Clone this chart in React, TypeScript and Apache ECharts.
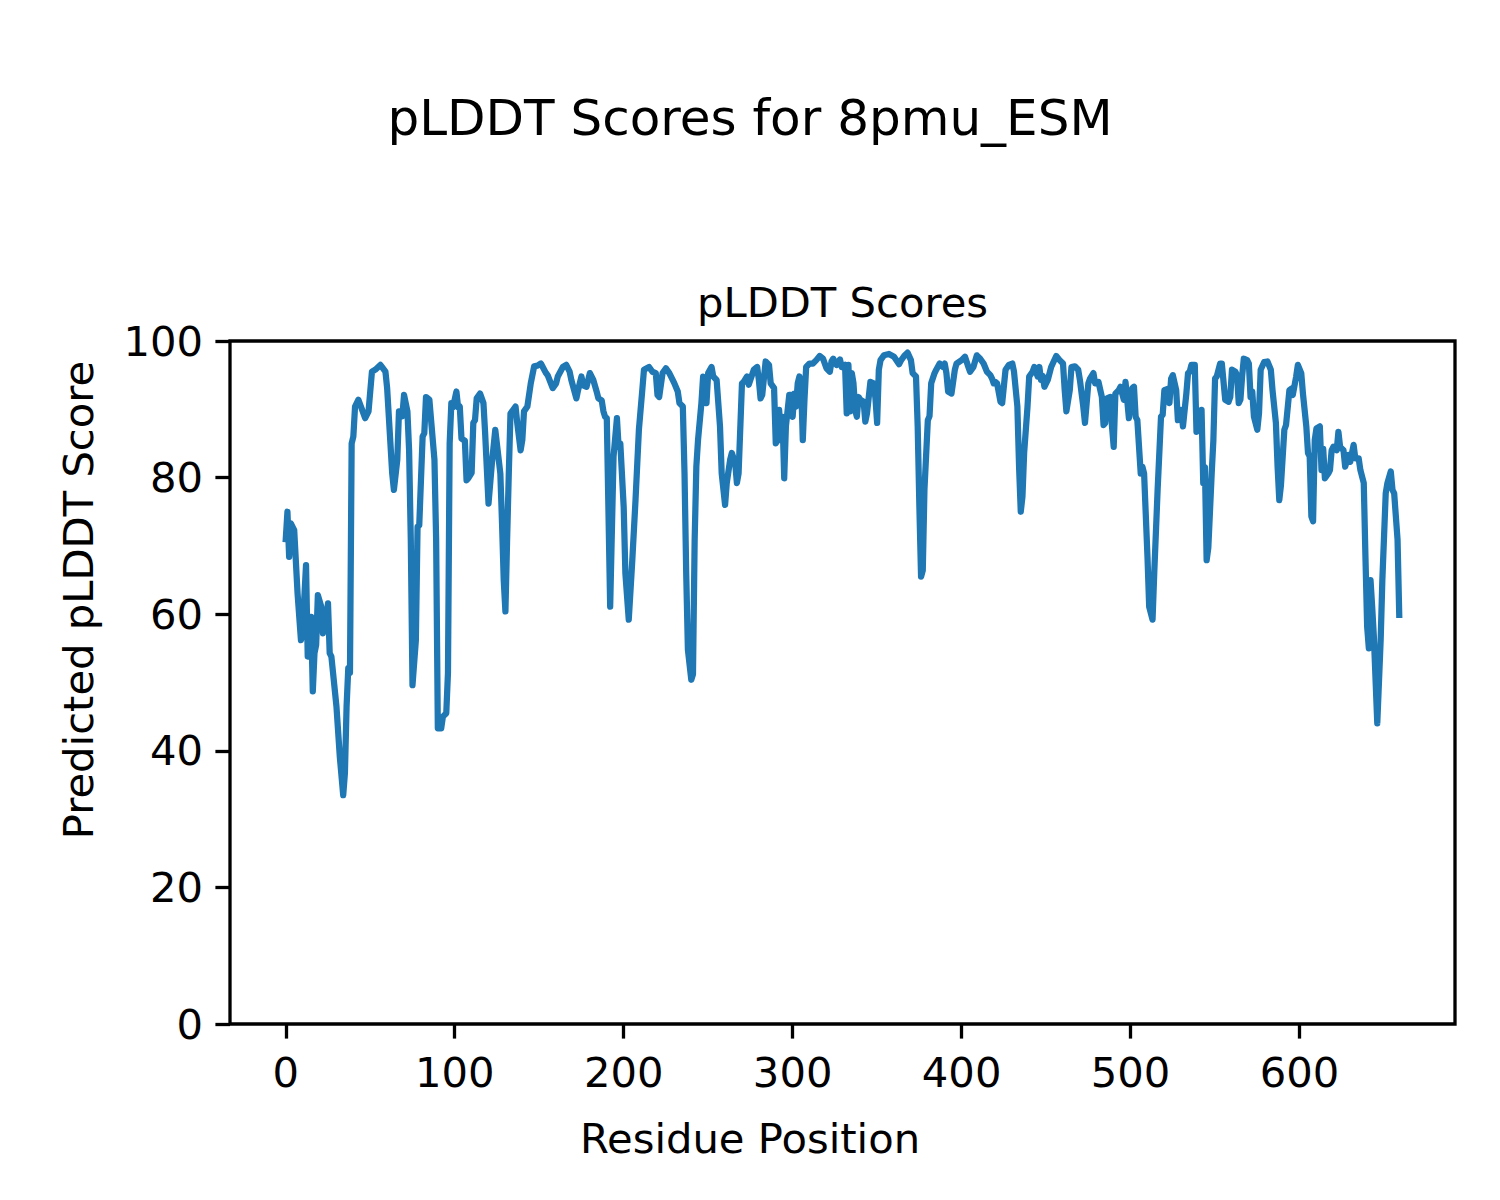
import React, { useEffect, useRef } from "react";
import * as echarts from "echarts";

const residues = [
  0, 1, 2, 3, 5, 7, 9, 10, 12, 13, 14, 15, 16, 17, 18, 19, 21, 22, 24, 25, 26, 27, 30, 32, 34, 35, 36, 37, 38, 39,
  40, 41, 43, 47, 49, 51, 53, 56, 59, 60, 63, 64, 66, 67, 69, 70, 72, 73, 74, 75, 77, 78, 79, 81, 82, 83, 85, 88, 89, 90,
  92, 93, 95, 96, 97, 98, 99, 101, 102, 103, 104, 106, 107, 108, 110, 111, 112, 113, 115, 117, 118, 120, 122, 124, 127, 128, 129, 130, 131, 132,
  133, 134, 136, 137, 139, 140, 141, 143, 145, 147, 149, 151, 154, 155, 158, 160, 161, 164, 166, 168, 169, 172, 173, 175, 176, 178, 180, 182, 184, 185,
  187, 188, 189, 190, 192, 194, 196, 197, 198, 200, 201, 203, 205, 207, 209, 211, 212, 215, 217, 219, 220, 221, 223, 225, 227, 229, 230, 232, 233, 235,
  236, 237, 238, 240, 241, 242, 243, 244, 246, 247, 248, 249, 250, 252, 253, 255, 257, 258, 260, 261, 263, 264, 266, 267, 268, 270, 271, 273, 274, 277,
  279, 280, 281, 282, 284, 286, 287, 289, 290, 291, 292, 293, 294, 295, 296, 298, 299, 300, 301, 302, 303, 304, 305, 306, 307, 308, 310, 312, 314, 316,
  318, 320, 322, 323, 324, 326, 328, 329, 331, 332, 333, 334, 335, 336, 337, 338, 339, 340, 342, 343, 344, 346, 348, 349, 350, 351, 352, 354, 357, 360,
  363, 364, 366, 368, 370, 371, 373, 374, 375, 376, 377, 378, 380, 381, 382, 384, 385, 387, 389, 390, 391, 392, 394, 396, 397, 400, 402, 404, 405, 407,
  409, 411, 413, 415, 417, 418, 419, 420, 421, 423, 424, 426, 428, 430, 431, 433, 434, 435, 436, 437, 439, 440, 442, 443, 445, 446, 447, 448, 449, 451,
  453, 456, 458, 460, 461, 462, 464, 465, 467, 469, 470, 472, 473, 475, 476, 478, 479, 481, 483, 484, 485, 486, 488, 489, 490, 491, 493, 494, 496, 497,
  499, 501, 502, 503, 504, 506, 507, 508, 510, 511, 513, 514, 516, 518, 519, 520, 522, 523, 524, 525, 527, 528, 530, 531, 533, 534, 535, 536, 538, 539,
  541, 542, 543, 544, 545, 546, 548, 549, 550, 551, 553, 554, 556, 558, 559, 560, 562, 563, 564, 565, 566, 567, 569, 570, 571, 572, 573, 575, 576, 577,
  579, 581, 583, 584, 586, 587, 588, 589, 591, 592, 594, 595, 596, 598, 599, 601, 602, 604, 605, 606, 607, 608, 609, 610, 612, 613, 614, 615, 617, 618,
  619, 620, 622, 623, 624, 626, 627, 629, 630, 632, 633, 635, 636, 638, 639, 640, 641, 642, 643, 644, 646, 648, 649, 651, 652, 654, 655, 656, 658, 659,
];

const scores = [
  71, 75, 68.4, 73.3, 72.3, 63, 56.2, 57.7, 67.2, 53.8, 56, 59.6, 48.7, 54.3, 55.5, 62.8, 61.1, 57.2, 59.5, 61.6, 54.3, 53.8, 46.5, 39.1, 33.5, 36.7, 46.5, 52.1, 51.4, 85,
  86, 90.4, 91.4, 88.7, 89.7, 95.5, 95.8, 96.5, 95.5, 93.1, 80.6, 78.2, 82.6, 89.7, 89, 92.1, 89.7, 84, 70.9, 49.6, 56.2, 72.8, 73, 86, 86.5, 91.8, 91.4, 82.6, 70.9, 43.3,
  43.3, 45, 45.5, 51.4, 85, 90.9, 90.3, 92.6, 90.3, 90.4, 85.7, 85.4, 79.6, 79.9, 80.7, 88, 88.4, 91.6, 92.3, 90.9, 86.5, 76.2, 82.1, 87, 80.6, 73.3, 65, 60.4, 70.9, 80.6,
  89.4, 89.7, 90.4, 88, 84, 85.5, 89.7, 90.4, 93.8, 96.3, 96.4, 96.7, 95.3, 95, 93.1, 93.8, 94.8, 96.2, 96.5, 95.5, 94.3, 91.6, 92.8, 94.8, 93.5, 93.3, 95.3, 94.3, 92.6, 91.6,
  91.3, 89.7, 88.9, 88.7, 61.1, 83.1, 88.7, 84.5, 85, 75.7, 66, 59.2, 67.5, 76.7, 87, 92.8, 95.8, 96.2, 95.5, 95.3, 92.1, 91.8, 95.3, 96, 95.3, 94.3, 93.8, 92.6, 90.9, 90.4,
  80.6, 66, 54.8, 50.4, 51.2, 70.9, 81.6, 85.5, 90.9, 94.8, 93.8, 90.9, 95.3, 96.2, 94.8, 94.3, 87.5, 80.6, 76, 79.2, 82.6, 83.6, 82.1, 79.2, 80.6, 93.8, 94, 94.8, 93.6, 95.8,
  96.2, 94.3, 91.6, 92.1, 97, 96.5, 93.8, 93.1, 85, 85.5, 89.9, 85.5, 88.9, 79.9, 87.5, 92.1, 92.1, 88.9, 92.3, 90.4, 93.8, 94.8, 93.8, 85.5, 91.4, 96.2, 96.7, 96.7, 97.2, 97.8,
  97.4, 96, 95.5, 97, 97.4, 96.5, 97.3, 96.2, 96.5, 89.4, 96.5, 89.7, 95.3, 93.8, 89.9, 88.9, 91.8, 91.4, 91.1, 88.2, 89.4, 94, 93.8, 91.6, 88, 95.8, 97.2, 97.9, 98.1, 97.7,
  96.6, 97.1, 97.8, 98.3, 97.2, 95.3, 94.8, 87.5, 75.7, 65.5, 66.4, 78.2, 88.4, 89, 93.8, 95.3, 95.8, 96.7, 96.2, 96.7, 95.3, 92.6, 92.3, 95.8, 96.7, 97.2, 97.7, 96.2, 95.5, 96.2,
  97.9, 97.4, 96.7, 95.5, 95, 94.5, 93.8, 94, 93.8, 91.1, 90.9, 95.8, 96.5, 96.7, 95.5, 90.4, 81.6, 75, 77.2, 83.6, 90.4, 94.8, 95.5, 96.2, 94.8, 96.2, 94.3, 94.9, 93.3, 94.3,
  96.2, 97.8, 97.2, 96.7, 92.8, 89.7, 92.8, 96.2, 96.3, 95.8, 94.3, 90.4, 88, 93.8, 94.5, 95.3, 93.8, 94, 91.8, 87.7, 88, 91.6, 91.8, 87.5, 84.5, 92.3, 92.8, 93.3, 91.4, 94,
  88.7, 93.1, 93.3, 88.9, 88.4, 80.6, 81.6, 80.6, 68.4, 61.1, 59.2, 66, 78.2, 88.9, 89.2, 92.8, 93, 90.9, 94.5, 95, 92.8, 88.4, 89.9, 87.5, 92.3, 95.3, 95.5, 96.5, 96.5, 86.7,
  87, 89.9, 79.2, 81.5, 67.9, 69.7, 80.6, 85.5, 94.5, 94.8, 96.7, 96.7, 91.4, 91.1, 91.8, 95.8, 95.5, 95, 90.9, 91.4, 94.8, 97.4, 97.2, 96.7, 91.8, 92.6, 88.9, 87, 89.4, 95.8,
  96.9, 97, 95.8, 92.8, 88, 81.6, 76.7, 78.9, 87, 87.7, 92.8, 93, 92.1, 94.8, 96.5, 95.3, 92.3, 87.5, 83.6, 83.1, 74.3, 73.6, 85.5, 87.2, 87.5, 81.1, 84.2, 79.9, 80.6, 81.1,
  84, 84.5, 84, 86.7, 84.5, 84, 81.6, 83.3, 82.3, 84.8, 82.8, 82.8, 81.1, 79.2, 68.4, 58.2, 55, 65, 61, 56.6, 44, 56.2, 65, 77.7, 79.2, 80.9, 78.2, 77.7, 70.9, 59.9,
];

const xTicks = [0, 100, 200, 300, 400, 500, 600];

const FONT = "DejaVu Sans";

export default function App() {
  const ref = useRef<HTMLDivElement>(null);
  useEffect(() => {
    if (!ref.current) return;
    const chart = echarts.init(ref.current, undefined, { renderer: "svg" });
    const data = residues.map((r, i) => [r, scores[i]]);
    const tickStyle = { show: true, length: 14.6, lineStyle: { color: "#000", width: 3.3 } };
    chart.setOption({
      animation: false,
      backgroundColor: "#fff",
      grid: {
        left: 230,
        top: 341,
        right: 45,
        bottom: 176,
        show: true,
        borderColor: "#000",
        borderWidth: 3.3,
        backgroundColor: "transparent",
      },
      xAxis: {
        type: "value",
        min: -33,
        max: 692,
        position: "bottom",
        axisLine: { show: false, onZero: false },
        splitLine: { show: false },
        axisTick: { ...tickStyle, customValues: xTicks },
        axisLabel: {
          customValues: xTicks,
          fontSize: 41.7,
          color: "#000",
          fontFamily: FONT,
          margin: 27,
        },
      },
      yAxis: {
        type: "value",
        min: 0,
        max: 100,
        interval: 20,
        position: "left",
        axisLine: { show: false, onZero: false },
        splitLine: { show: false },
        axisTick: tickStyle,
        axisLabel: { fontSize: 41.7, color: "#000", fontFamily: FONT, margin: 27 },
      },
      graphic: [
        {
          type: "text",
          x: 750,
          y: 118,
          style: { text: "pLDDT Scores for 8pmu_ESM", fontSize: 50, fontFamily: FONT, fill: "#000", align: "center", verticalAlign: "middle" },
        },
        {
          type: "text",
          x: 842.5,
          y: 302,
          style: { text: "pLDDT Scores", fontSize: 41.7, fontFamily: FONT, fill: "#000", align: "center", verticalAlign: "middle" },
        },
        {
          type: "text",
          x: 750,
          y: 1138,
          style: { text: "Residue Position", fontSize: 41.7, fontFamily: FONT, fill: "#000", align: "center", verticalAlign: "middle" },
        },
        {
          type: "text",
          x: 78,
          y: 600,
          rotation: Math.PI / 2,
          style: { text: "Predicted pLDDT Score", fontSize: 41.7, fontFamily: FONT, fill: "#000", align: "center", verticalAlign: "middle" },
        },
      ],
      series: [
        {
          type: "line",
          data,
          showSymbol: false,
          symbol: "none",
          lineStyle: { color: "#1f77b4", width: 6.25, join: "round", cap: "square" },
        },
      ],
    });
    return () => chart.dispose();
  }, []);
  return <div ref={ref} style={{ position: "absolute", left: 0, top: 0, width: 1500, height: 1200 }} />;
}
